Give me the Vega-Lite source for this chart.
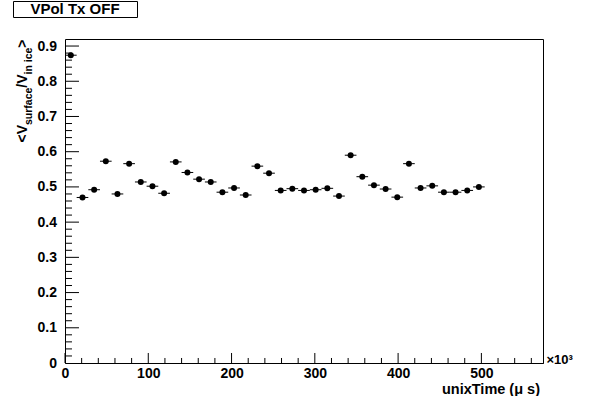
{
  "$schema": "https://vega.github.io/schema/vega-lite/v6.json",
  "padding": {"left": 12, "top": 0, "right": 0, "bottom": 0},
  "spacing": 20,
  "config": {
    "font": "Liberation Sans",
    "view": {"stroke": "black", "strokeWidth": 1},
    "axis": {
      "grid": false,
      "domainColor": "black",
      "domainWidth": 1,
      "labelColor": "black",
      "titleColor": "black",
      "labelFont": "Liberation Sans",
      "titleFont": "Liberation Sans",
      "labelFontWeight": "bold",
      "titleFontWeight": "bold",
      "labelFontSize": 14,
      "labelFlush": false,
      "labelOverlap": false
    }
  },
  "datasets": {
    "ratios": [
      {"time": 7, "binLow": 0, "binHigh": 14, "ratio": 0.874},
      {"time": 21, "binLow": 14, "binHigh": 28, "ratio": 0.470},
      {"time": 35, "binLow": 28, "binHigh": 42, "ratio": 0.492},
      {"time": 49, "binLow": 42, "binHigh": 56, "ratio": 0.573},
      {"time": 63, "binLow": 56, "binHigh": 70, "ratio": 0.480},
      {"time": 77, "binLow": 70, "binHigh": 84, "ratio": 0.566},
      {"time": 91, "binLow": 84, "binHigh": 98, "ratio": 0.514},
      {"time": 105, "binLow": 98, "binHigh": 112, "ratio": 0.502},
      {"time": 119, "binLow": 112, "binHigh": 126, "ratio": 0.482},
      {"time": 133, "binLow": 126, "binHigh": 140, "ratio": 0.571},
      {"time": 147, "binLow": 140, "binHigh": 154, "ratio": 0.541},
      {"time": 161, "binLow": 154, "binHigh": 168, "ratio": 0.522},
      {"time": 175, "binLow": 168, "binHigh": 182, "ratio": 0.514},
      {"time": 189, "binLow": 182, "binHigh": 196, "ratio": 0.485},
      {"time": 203, "binLow": 196, "binHigh": 210, "ratio": 0.497},
      {"time": 217, "binLow": 210, "binHigh": 224, "ratio": 0.477},
      {"time": 231, "binLow": 224, "binHigh": 238, "ratio": 0.559},
      {"time": 245, "binLow": 238, "binHigh": 252, "ratio": 0.539},
      {"time": 259, "binLow": 252, "binHigh": 266, "ratio": 0.490},
      {"time": 273, "binLow": 266, "binHigh": 280, "ratio": 0.495},
      {"time": 287, "binLow": 280, "binHigh": 294, "ratio": 0.490},
      {"time": 301, "binLow": 294, "binHigh": 308, "ratio": 0.492},
      {"time": 315, "binLow": 308, "binHigh": 322, "ratio": 0.496},
      {"time": 329, "binLow": 322, "binHigh": 336, "ratio": 0.474},
      {"time": 343, "binLow": 336, "binHigh": 350, "ratio": 0.590},
      {"time": 357, "binLow": 350, "binHigh": 364, "ratio": 0.529},
      {"time": 371, "binLow": 364, "binHigh": 378, "ratio": 0.505},
      {"time": 385, "binLow": 378, "binHigh": 392, "ratio": 0.494},
      {"time": 399, "binLow": 392, "binHigh": 406, "ratio": 0.471},
      {"time": 413, "binLow": 406, "binHigh": 420, "ratio": 0.566},
      {"time": 427, "binLow": 420, "binHigh": 434, "ratio": 0.497},
      {"time": 441, "binLow": 434, "binHigh": 448, "ratio": 0.503},
      {"time": 455, "binLow": 448, "binHigh": 462, "ratio": 0.485},
      {"time": 469, "binLow": 462, "binHigh": 476, "ratio": 0.485},
      {"time": 483, "binLow": 476, "binHigh": 490, "ratio": 0.490},
      {"time": 497, "binLow": 490, "binHigh": 504, "ratio": 0.500}
    ]
  },
  "vconcat": [
    {
      "width": 124,
      "height": 16,
      "data": {"values": [{"label": "VPol Tx OFF", "pos": 0.5}]},
      "mark": {"type": "text", "font": "Liberation Sans", "fontWeight": "bold", "fontSize": 15, "color": "black", "baseline": "middle", "align": "center"},
      "encoding": {
        "x": {"field": "pos", "type": "quantitative", "scale": {"domain": [0, 1]}, "axis": null},
        "y": {"field": "pos", "type": "quantitative", "scale": {"domain": [0, 1]}, "axis": null},
        "text": {"field": "label"}
      }
    },
    {
      "spacing": 0,
      "hconcat": [
        {
          "width": 47,
          "height": 324,
          "view": {"stroke": null},
          "data": {"name": "ratios"},
          "layer": [
            {
              "mark": {"type": "point", "opacity": 0, "size": 0, "strokeWidth": 0},
              "encoding": {
                "x": {"field": "time", "type": "quantitative", "scale": {"domain": [0, 574]}, "axis": null},
                "y": {
                  "field": "ratio", "type": "quantitative",
                  "scale": {"domain": [0, 0.92], "nice": false, "zero": true},
                  "axis": {
                    "orient": "right", "values": [0, 0.1, 0.2, 0.3, 0.4, 0.5, 0.6, 0.7, 0.8, 0.9], "format": ".1~f",
                    "ticks": false, "domain": false, "labelAlign": "right", "labelPadding": -3.5, "title": null
                  }
                }
              }
            },
            {
              "mark": {"type": "point", "opacity": 0, "size": 0, "strokeWidth": 0},
              "encoding": {
                "x": {"field": "time", "type": "quantitative", "axis": null},
                "y": {
                  "field": "ratio", "type": "quantitative",
                  "axis": {"orient": "right", "domain": false, "labels": false, "ticks": false, "title": "<V", "titleX": -34, "titleY": 103, "titleAngle": 270, "titleAlign": "left", "titleBaseline": "alphabetic", "titleFontSize": 14}
                }
              }
            },
            {
              "mark": {"type": "point", "opacity": 0, "size": 0, "strokeWidth": 0},
              "encoding": {
                "x": {"field": "time", "type": "quantitative", "axis": null},
                "y": {
                  "field": "ratio", "type": "quantitative",
                  "axis": {"orient": "right", "domain": false, "labels": false, "ticks": false, "title": "surface", "titleX": -28.5, "titleY": 85.5, "titleAngle": 270, "titleAlign": "left", "titleBaseline": "alphabetic", "titleFontSize": 10.5}
                }
              }
            },
            {
              "mark": {"type": "point", "opacity": 0, "size": 0, "strokeWidth": 0},
              "encoding": {
                "x": {"field": "time", "type": "quantitative", "axis": null},
                "y": {
                  "field": "ratio", "type": "quantitative",
                  "axis": {"orient": "right", "domain": false, "labels": false, "ticks": false, "title": "/V", "titleX": -34, "titleY": 48.2, "titleAngle": 270, "titleAlign": "left", "titleBaseline": "alphabetic", "titleFontSize": 14}
                }
              }
            },
            {
              "mark": {"type": "point", "opacity": 0, "size": 0, "strokeWidth": 0},
              "encoding": {
                "x": {"field": "time", "type": "quantitative", "axis": null},
                "y": {
                  "field": "ratio", "type": "quantitative",
                  "axis": {"orient": "right", "domain": false, "labels": false, "ticks": false, "title": "in ice", "titleX": -28.5, "titleY": 35, "titleAngle": 270, "titleAlign": "left", "titleBaseline": "alphabetic", "titleFontSize": 10.5}
                }
              }
            },
            {
              "mark": {"type": "point", "opacity": 0, "size": 0, "strokeWidth": 0},
              "encoding": {
                "x": {"field": "time", "type": "quantitative", "axis": null},
                "y": {
                  "field": "ratio", "type": "quantitative",
                  "axis": {"orient": "right", "domain": false, "labels": false, "ticks": false, "title": ">", "titleX": -34, "titleY": 8.2, "titleAngle": 270, "titleAlign": "left", "titleBaseline": "alphabetic", "titleFontSize": 14}
                }
              }
            }
          ],
          "resolve": {"axis": {"y": "independent"}}
        },
        {
          "width": 478,
          "height": 324,
          "data": {"name": "ratios"},
          "layer": [
            {
              "mark": {"type": "rule", "color": "black", "strokeWidth": 1},
              "encoding": {
                "x": {
                  "field": "binLow", "type": "quantitative",
                  "scale": {"domain": [0, 574], "nice": false, "zero": false},
                  "axis": {
                    "orient": "bottom", "values": [0, 100, 200, 300, 400, 500], "format": "d",
                    "ticks": false, "domain": true, "labelPadding": 3,
                    "title": "unixTime (μ s)", "titleX": 474.5, "titleY": 30, "titleAngle": 0,
                    "titleAlign": "right", "titleBaseline": "alphabetic", "titleFontSize": 14.5
                  }
                },
                "x2": {"field": "binHigh"},
                "y": {
                  "field": "ratio", "type": "quantitative",
                  "scale": {"domain": [0, 0.92], "nice": false, "zero": true},
                  "axis": null
                }
              }
            },
            {
              "mark": {"type": "point", "filled": true, "color": "black", "size": 36, "opacity": 1},
              "encoding": {
                "x": {"field": "time", "type": "quantitative", "axis": null},
                "y": {"field": "ratio", "type": "quantitative", "axis": null}
              }
            },
            {
              "data": {"values": [{"at": 0}, {"at": 100}, {"at": 200}, {"at": 300}, {"at": 400}, {"at": 500}]},
              "mark": {"type": "rule", "color": "black", "strokeWidth": 1},
              "encoding": {
                "x": {"field": "at", "type": "quantitative", "axis": null},
                "y": {"datum": 0, "type": "quantitative", "axis": null},
                "y2": {"datum": 0.0284}
              }
            },
            {
              "data": {"values": [
                {"at": 20}, {"at": 40}, {"at": 60}, {"at": 80}, {"at": 120}, {"at": 140}, {"at": 160}, {"at": 180},
                {"at": 220}, {"at": 240}, {"at": 260}, {"at": 280}, {"at": 320}, {"at": 340}, {"at": 360}, {"at": 380},
                {"at": 420}, {"at": 440}, {"at": 460}, {"at": 480}, {"at": 520}, {"at": 540}, {"at": 560}
              ]},
              "mark": {"type": "rule", "color": "black", "strokeWidth": 1},
              "encoding": {
                "x": {"field": "at", "type": "quantitative", "axis": null},
                "y": {"datum": 0, "type": "quantitative", "axis": null},
                "y2": {"datum": 0.0142}
              }
            },
            {
              "data": {"values": [{"at": 0.1}, {"at": 0.2}, {"at": 0.3}, {"at": 0.4}, {"at": 0.5}, {"at": 0.6}, {"at": 0.7}, {"at": 0.8}, {"at": 0.9}]},
              "mark": {"type": "rule", "color": "black", "strokeWidth": 1},
              "encoding": {
                "y": {"field": "at", "type": "quantitative", "axis": null},
                "x": {"datum": 0, "type": "quantitative", "axis": null},
                "x2": {"datum": 16.8}
              }
            },
            {
              "data": {"values": [
                {"at": 0.02}, {"at": 0.04}, {"at": 0.06}, {"at": 0.08}, {"at": 0.12}, {"at": 0.14}, {"at": 0.16}, {"at": 0.18},
                {"at": 0.22}, {"at": 0.24}, {"at": 0.26}, {"at": 0.28}, {"at": 0.32}, {"at": 0.34}, {"at": 0.36}, {"at": 0.38},
                {"at": 0.42}, {"at": 0.44}, {"at": 0.46}, {"at": 0.48}, {"at": 0.52}, {"at": 0.54}, {"at": 0.56}, {"at": 0.58},
                {"at": 0.62}, {"at": 0.64}, {"at": 0.66}, {"at": 0.68}, {"at": 0.72}, {"at": 0.74}, {"at": 0.76}, {"at": 0.78},
                {"at": 0.82}, {"at": 0.84}, {"at": 0.86}, {"at": 0.88}
              ]},
              "mark": {"type": "rule", "color": "black", "strokeWidth": 1},
              "encoding": {
                "y": {"field": "at", "type": "quantitative", "axis": null},
                "x": {"datum": 0, "type": "quantitative", "axis": null},
                "x2": {"datum": 8.4}
              }
            },
            {
              "mark": {"type": "point", "opacity": 0, "size": 0, "strokeWidth": 0},
              "encoding": {
                "x": {
                  "field": "time", "type": "quantitative",
                  "axis": {"orient": "bottom", "domain": false, "labels": false, "ticks": false, "title": "×10³", "titleX": 481, "titleY": 0, "titleAngle": 0, "titleAlign": "left", "titleBaseline": "alphabetic", "titleFontSize": 13}
                },
                "y": {"field": "ratio", "type": "quantitative", "axis": null}
              }
            }
          ],
          "resolve": {"axis": {"x": "independent", "y": "independent"}}
        }
      ]
    }
  ]
}
